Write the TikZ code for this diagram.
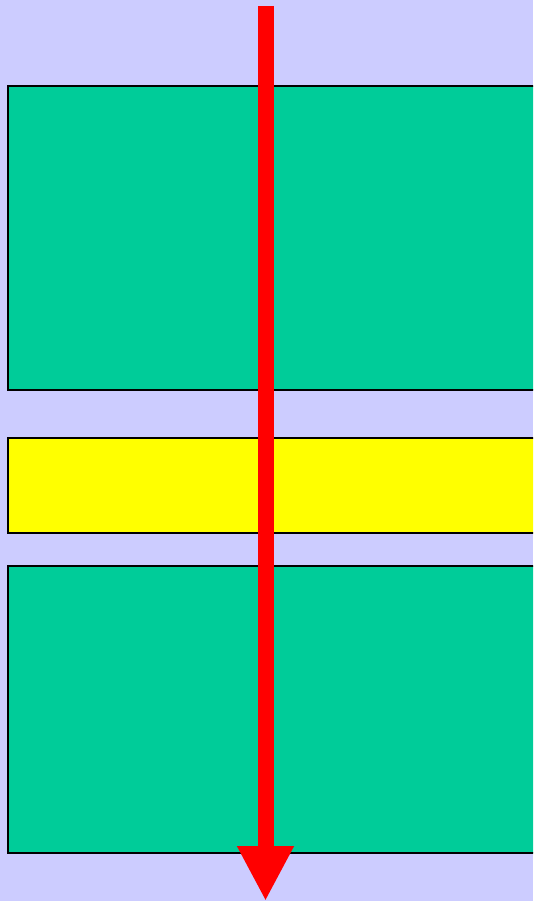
\documentclass[tikz,border=0pt]{standalone}
\usetikzlibrary{arrows.meta}
\definecolor{lavender}{RGB}{204,204,255}
\definecolor{layergreen}{RGB}{0,204,153}
\definecolor{layeryellow}{RGB}{255,255,0}
\definecolor{flowred}{RGB}{255,0,0}
\tikzset{
  layer/.style={draw=black, line width=1.6pt},
  flow/.style={draw=flowred, line width=16pt, -{Triangle[width=53pt,length=55pt]}}
}
\begin{document}
\begin{tikzpicture}[x=1pt,y=-1pt]
    \clip (0,0) rectangle (533,901);
    \fill[lavender] (0,0) rectangle (533,901);

    \draw[layer, fill=layergreen] (8,86) rectangle (545,390);
    \draw[layer, fill=layeryellow] (8,438) rectangle (545,533);
    \draw[layer, fill=layergreen] (8,566) rectangle (545,853);

    \coordinate (top) at (265.5,6);
    \coordinate (bottom) at (265.5,901);
    \draw[flow] (top) -- (bottom);
\end{tikzpicture}
\end{document}
